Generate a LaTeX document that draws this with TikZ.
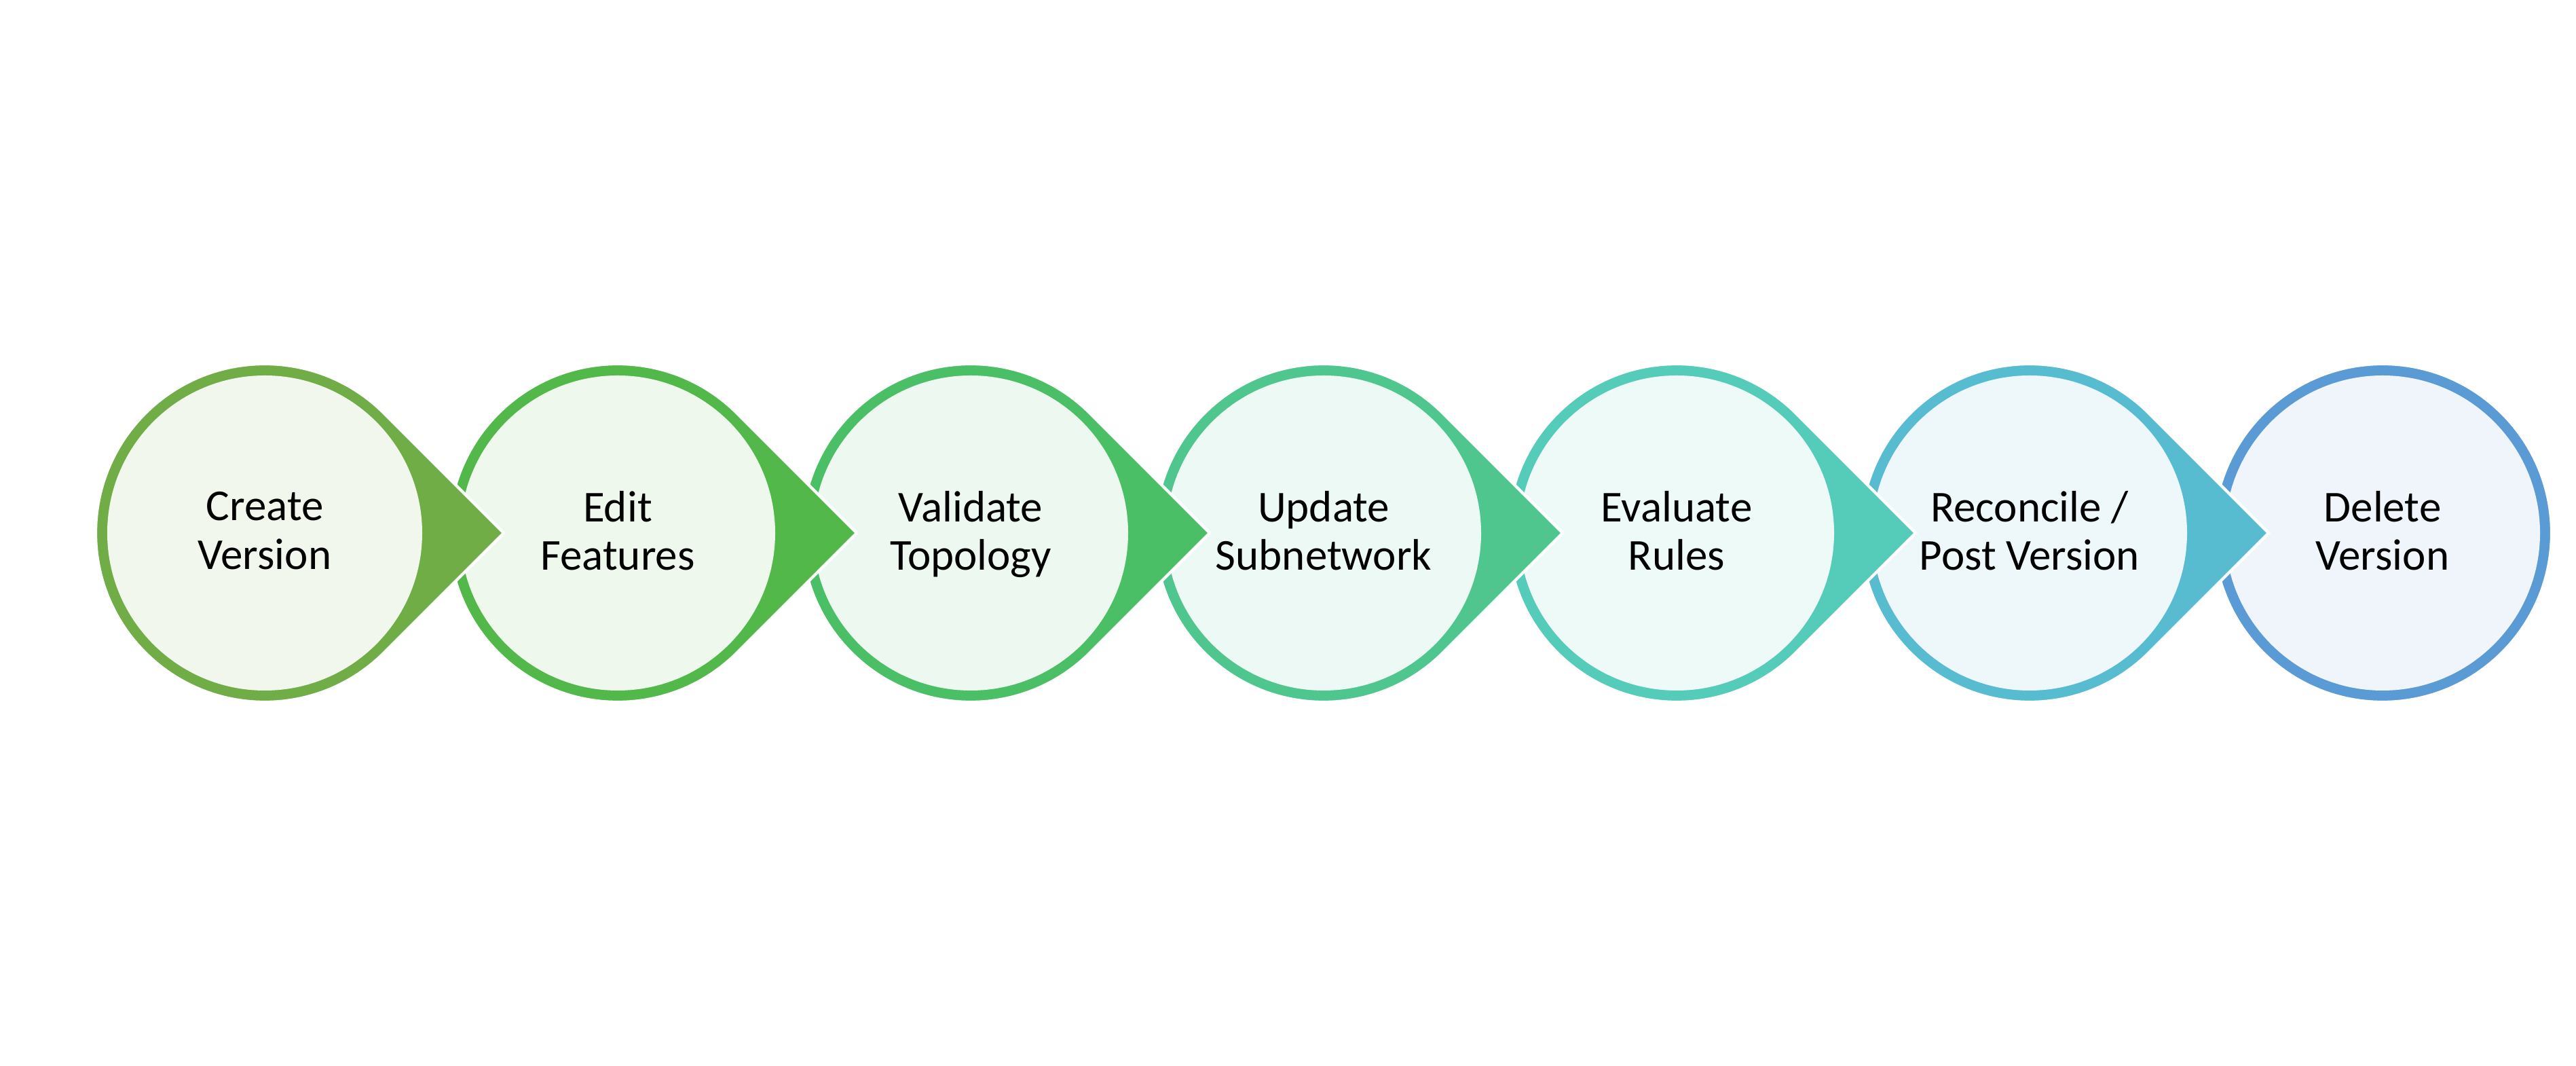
\documentclass[tikz,border=0pt]{standalone}
\usepackage{fontspec}
\setmainfont{Carlito}
\usepackage{tikz}

\definecolor{cA}{HTML}{70AD47}
\definecolor{cB}{HTML}{52B84A}
\definecolor{cC}{HTML}{4BBF66}
\definecolor{cD}{HTML}{50C68F}
\definecolor{cE}{HTML}{55CBB9}
\definecolor{cF}{HTML}{57BCD0}
\definecolor{cG}{HTML}{5B9BD5}

\tikzset{
    stagetext/.style={inner sep=0pt, align=center,
        font=\fontsize{18.5}{20.3}\selectfont, execute at end node={\vphantom{y}}, yshift=-0.5pt},
    whiteedge/.style={draw=white, line width=1.2pt}
}

\begin{document}
\begin{tikzpicture}

        \useasboundingbox (0,0) rectangle (37.95,15.70);

        % delete version
            \fill[cG, whiteedge] (35.10,7.85) circle (2.49);
            \fill[cG!10!white] (35.10,7.85) circle (2.32);
            \node[stagetext] (delete) at (35.10,7.85) {Delete\\Version};

        % reconcile / post version
            \fill[cF, whiteedge] (29.90,7.85) ++(45:2.49) arc[start angle=45, end angle=315, radius=2.49] -- (33.42,7.85) -- cycle;
            \fill[cF!10!white] (29.90,7.85) circle (2.32);
            \node[stagetext] (reconcile) at (29.90,7.85) {Reconcile /\\Post Version};

        % evaluate rules
            \fill[cE, whiteedge] (24.70,7.85) ++(45:2.49) arc[start angle=45, end angle=315, radius=2.49] -- (28.22,7.85) -- cycle;
            \fill[cE!10!white] (24.70,7.85) circle (2.32);
            \node[stagetext] (evaluate) at (24.70,7.85) {Evaluate\\Rules};

        % update subnetwork
            \fill[cD, whiteedge] (19.50,7.85) ++(45:2.49) arc[start angle=45, end angle=315, radius=2.49] -- (23.02,7.85) -- cycle;
            \fill[cD!10!white] (19.50,7.85) circle (2.32);
            \node[stagetext] (update) at (19.50,7.85) {Update\\Subnetwork};

        % validate topology
            \fill[cC, whiteedge] (14.30,7.85) ++(45:2.49) arc[start angle=45, end angle=315, radius=2.49] -- (17.82,7.85) -- cycle;
            \fill[cC!10!white] (14.30,7.85) circle (2.32);
            \node[stagetext] (validate) at (14.30,7.85) {Validate\\Topology};

        % edit features
            \fill[cB, whiteedge] (9.10,7.85) ++(45:2.49) arc[start angle=45, end angle=315, radius=2.49] -- (12.62,7.85) -- cycle;
            \fill[cB!10!white] (9.10,7.85) circle (2.32);
            \node[stagetext] (edit) at (9.10,7.85) {Edit\\Features};

        % create version
            \fill[cA, whiteedge] (3.90,7.85) ++(45:2.49) arc[start angle=45, end angle=315, radius=2.49] -- (7.42,7.85) -- cycle;
            \fill[cA!10!white] (3.90,7.85) circle (2.32);
            \node[stagetext] (create) at (3.90,7.85) {Create\\Version};

\end{tikzpicture}
\end{document}
